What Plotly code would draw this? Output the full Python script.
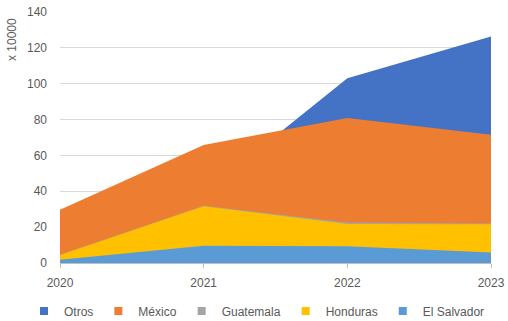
import plotly.graph_objects as go

years = [2020, 2021, 2022, 2023]
# Values as plotted (overlapping area chart, each series drawn from zero, x 10000)
series_names = ["Otros", "México", "Guatemala", "Honduras", "El Salvador"]
otros = [29.7, 38.6, 103.0, 126.4]
mexico = [29.7, 65.8, 80.9, 71.6]
guatemala = [4.6, 32.0, 22.6, 22.0]
honduras = [4.5, 31.6, 21.7, 21.6]
el_salvador = [1.8, 9.6, 9.4, 5.9]
colors = ["#4472C4", "#ED7D31", "#A5A5A5", "#FFC000", "#5B9BD5"]
y_ticks = [0, 20, 40, 60, 80, 100, 120, 140]

values = [otros, mexico, guatemala, honduras, el_salvador]

fig = go.Figure()
for name, vals, col in zip(series_names, values, colors):
    fig.add_trace(go.Scatter(
        x=years, y=vals, name=name, mode="lines", showlegend=False,
        line=dict(width=0, color=col), fill="tozeroy", fillcolor=col,
    ))
# legend entries with square swatches
for name, col in zip(series_names, colors):
    fig.add_trace(go.Scatter(
        x=[None], y=[None], name=name, mode="markers",
        marker=dict(symbol="square", size=8, color=col),
    ))

font_color = "#595959"
plot_w = 508 - 60 - 17
plot_h = 321 - 12 - 58
fig.update_layout(
    width=508, height=321,
    margin=dict(l=60, r=17, t=12, b=58, autoexpand=False),
    paper_bgcolor="white", plot_bgcolor="white",
    font=dict(family="Liberation Sans, Arial, sans-serif", size=12, color=font_color),
    showlegend=True,
    legend=dict(orientation="h", x=(24 - 60) / plot_w, xanchor="left",
                y=(263 - 311) / plot_h, yanchor="middle",
                font=dict(size=12, color=font_color), itemwidth=30,
                traceorder="normal", tracegroupgap=0),
    xaxis=dict(range=[2020, 2023], tickvals=years, ticktext=[str(y) for y in years],
               showgrid=False, zeroline=False, showline=True, linecolor="#BFBFBF",
               ticks="outside", ticklen=4, tickcolor="#BFBFBF", ticklabelstandoff=5),
    yaxis=dict(range=[0, 140], tickvals=y_ticks, showgrid=True, gridcolor="#D9D9D9",
               gridwidth=1, zeroline=False, showline=False, ticks="",
               ticklabelstandoff=12),
    annotations=[dict(text="x 10000", x=(12 - 60) / plot_w, y=(263 - 40) / plot_h,
                      xref="paper", yref="paper", xanchor="center", yanchor="middle",
                      showarrow=False, textangle=-90, font=dict(size=12, color=font_color))],
)

fig.write_html("out.html")
